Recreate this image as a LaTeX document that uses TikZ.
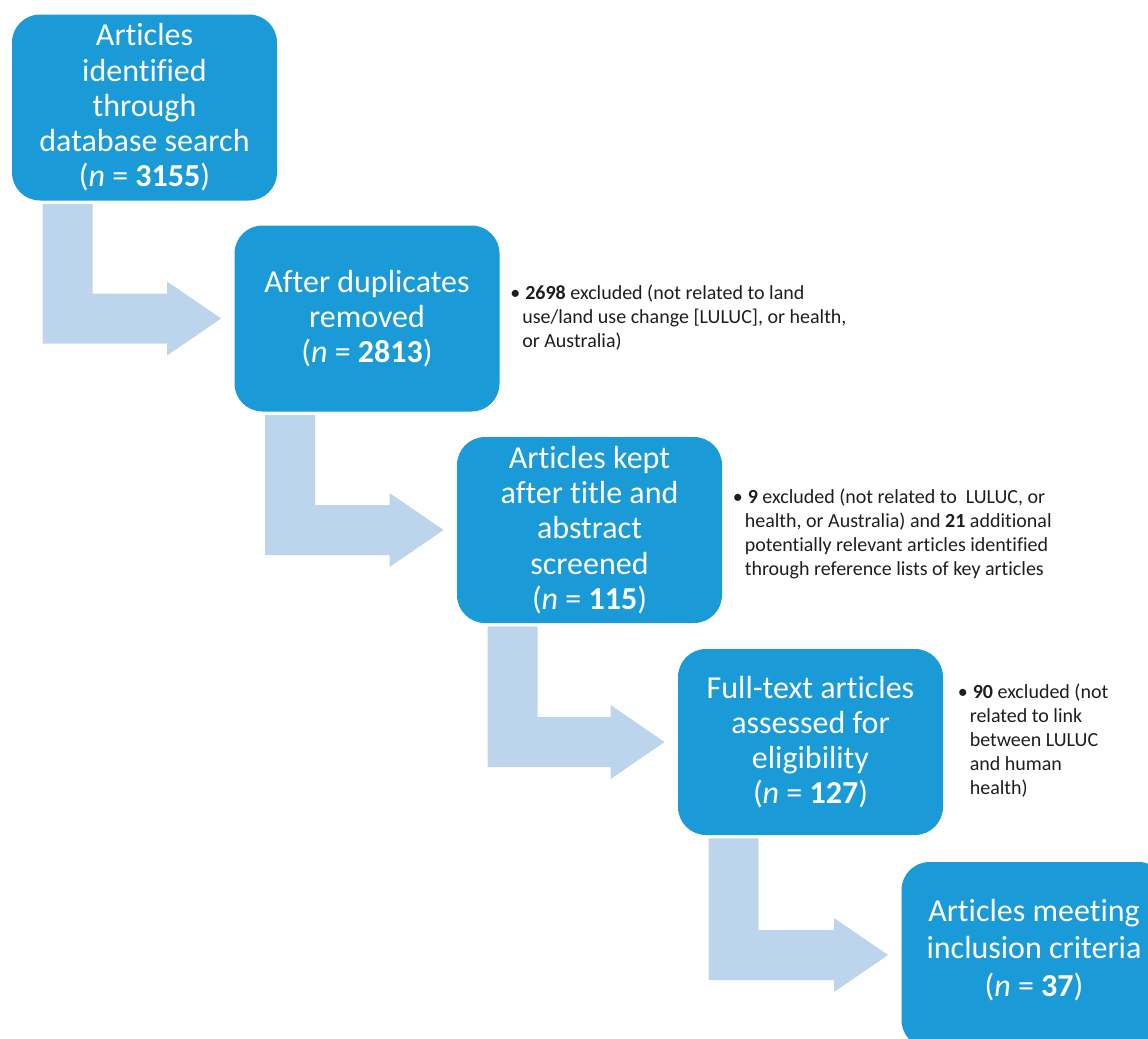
\documentclass[tikz,border=0pt]{standalone}
\usepackage{fontspec}
\setmainfont{Carlito}[Ligatures={NoCommon,NoRequired,NoContextual}, RawFeature={-liga,-clig,-dlig}]
\usetikzlibrary{positioning}

\definecolor{boxblue}{HTML}{1A9AD6}
\definecolor{arrowblue}{HTML}{BDD5EC}
\definecolor{notegray}{HTML}{1E1E1E}

\begin{document}
\begin{tikzpicture}[x=0.5pt, y=-0.5pt,
    stage/.style={rectangle, rounded corners=14pt, fill=boxblue, text=white,
        minimum width=132.5pt, minimum height=93pt, inner sep=0pt, align=center,
        font=\fontsize{16}{17.6}\selectfont},
    note/.style={text=notegray, inner sep=0pt, align=left,
        font=\fontsize{10}{12}\selectfont},
    flow/.style={fill=arrowblue}]

    \useasboundingbox (0,0) rectangle (1148,1039);
    \clip (0,0) rectangle (1148,1039);

    % --- stages ---
    \node[stage] (ident) at (144.5,107.5) {Articles\\identified\\through\\database search\\(\textit{n} = \textbf{3155})};
    \node[stage] (dedup) at (367,318.5) {After duplicates\\removed\\(\textit{n} = \textbf{2813})};
    \node[stage] (screen) at (589.5,530) {Articles kept\\after title and\\abstract\\screened\\(\textit{n} = \textbf{115})};
    \node[stage] (assess) at (810.5,742) {Full-text articles\\assessed for\\eligibility\\(\textit{n} = \textbf{127})};
    \node[stage, font=\fontsize{16}{18.7}\selectfont] (incl) at (1034,955) {Articles meeting\\inclusion criteria\\(\textit{n} = \textbf{37})\rule[-7.5pt]{0pt}{0pt}};

    % --- exclusions ---
    \node[note, right=5pt of dedup] (notededup) {\begin{tabular}{@{}l@{}l@{}}
        \makebox[7.5pt][l]{\textbullet} & \textbf{2698} excluded (not related to land\\
        & \hspace{-1.5pt}use/land use change [LULUC], or health,\\
        & \hspace{-1.5pt}or Australia)\end{tabular}};
    \node[note, right=5pt of screen, yshift=-2.5pt] (notescreen) {\begin{tabular}{@{}l@{}l@{}}
        \makebox[7.5pt][l]{\textbullet} & \textbf{9} excluded (not related to\ \ LULUC, or\\
        & \hspace{-1.5pt}health, or Australia) and \textbf{21} additional\\
        & \hspace{-1.5pt}potentially relevant articles identified\\
        & \hspace{-1.5pt}through reference lists of key articles\end{tabular}};
    \node[note, right=7pt of assess] (noteassess) {\begin{tabular}{@{}l@{}l@{}}
        \makebox[7.5pt][l]{\textbullet} & \textbf{90} excluded (not\\
        & \hspace{-1.5pt}related to link\\
        & \hspace{-1.5pt}between LULUC\\
        & \hspace{-1.5pt}and human\\
        & \hspace{-1.5pt}health)\end{tabular}};

    % --- bent arrows ---
    \foreach \src/\dst in {ident/dedup, dedup/screen, screen/assess, assess/incl} {
        \fill[flow] ([shift={(31,3)}]\src.south west) -- ([shift={(81,3)}]\src.south west)
            |- ([shift={(-67,-25)}]\dst.west) -- ([shift={(-67,-37)}]\dst.west)
            -- ([shift={(-13,0)}]\dst.west) -- ([shift={(-67,37)}]\dst.west)
            -- ([shift={(-67,25)}]\dst.west) -| ([shift={(31,3)}]\src.south west) -- cycle;
    }
\end{tikzpicture}
\end{document}
